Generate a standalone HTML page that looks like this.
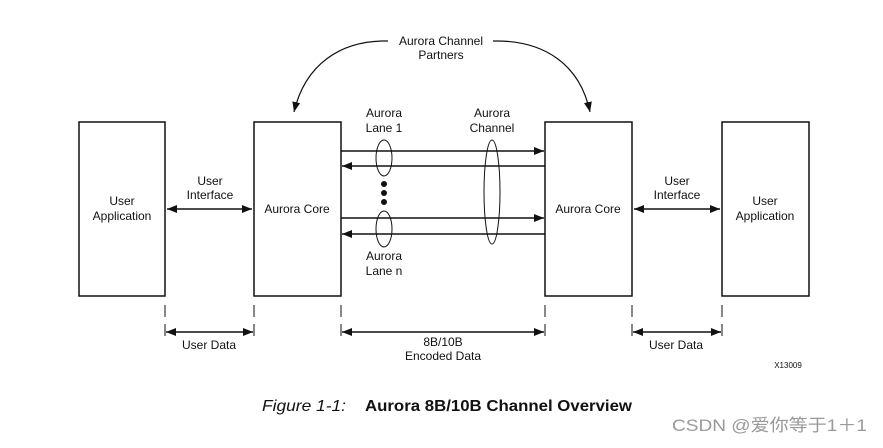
<!DOCTYPE html>
<html><head><style>
body{margin:0;background:#fff;width:883px;height:443px;overflow:hidden}
svg text{font-family:"Liberation Sans",Arial,sans-serif;font-size:12px;fill:#111}
</style></head><body>
<svg width="883" height="443" viewBox="0 0 883 443" xmlns="http://www.w3.org/2000/svg">
<defs>
<marker id="a" markerWidth="10" markerHeight="8" refX="10" refY="4" orient="auto-start-reverse" markerUnits="userSpaceOnUse"><path d="M0,0 L10,4 L0,8z" fill="#111"/></marker>
</defs>
<g fill="none" stroke="#111" stroke-width="1.5">
<rect x="79" y="122" width="86" height="174"/>
<rect x="254" y="122" width="87" height="174"/>
<rect x="545" y="122" width="87" height="174"/>
<rect x="722" y="122" width="87" height="174"/>
<line x1="167" y1="209" x2="252" y2="209" marker-start="url(#a)" marker-end="url(#a)"/>
<line x1="634" y1="209" x2="720" y2="209" marker-start="url(#a)" marker-end="url(#a)"/>
<line x1="341" y1="151" x2="544" y2="151" marker-end="url(#a)"/>
<line x1="545" y1="166" x2="342" y2="166" marker-end="url(#a)"/>
<line x1="341" y1="218" x2="544" y2="218" marker-end="url(#a)"/>
<line x1="545" y1="234" x2="342" y2="234" marker-end="url(#a)"/>
<ellipse cx="384" cy="158" rx="8" ry="18" stroke-width="1"/>
<ellipse cx="384" cy="229" rx="8" ry="18" stroke-width="1"/>
<ellipse cx="492" cy="192" rx="8" ry="52" stroke-width="1"/>
<path d="M388,41 C340,40 305,65 294,112" stroke-width="1.2" marker-end="url(#a)"/>
<path d="M493,41 C545,40 580,65 590,112" stroke-width="1.2" marker-end="url(#a)"/>
<g stroke-dasharray="12,7" stroke-width="1">
<line x1="165" y1="305" x2="165" y2="337"/>
<line x1="254" y1="305" x2="254" y2="337"/>
<line x1="341" y1="305" x2="341" y2="337"/>
<line x1="545" y1="305" x2="545" y2="337"/>
<line x1="632" y1="305" x2="632" y2="337"/>
<line x1="722" y1="305" x2="722" y2="337"/>
</g>
<line x1="166" y1="332" x2="253" y2="332" marker-start="url(#a)" marker-end="url(#a)"/>
<line x1="342" y1="332" x2="544" y2="332" marker-start="url(#a)" marker-end="url(#a)"/>
<line x1="633" y1="332" x2="721" y2="332" marker-start="url(#a)" marker-end="url(#a)"/>
</g>
<g fill="#111"><circle cx="384" cy="184" r="3"/><circle cx="384" cy="193" r="3"/><circle cx="384" cy="202" r="3"/></g>
<g text-anchor="middle">
<text x="122" y="205">User</text><text x="122" y="220">Application</text>
<text x="210" y="185">User</text><text x="210" y="199">Interface</text>
<text x="297" y="213">Aurora Core</text>
<text x="588" y="213">Aurora Core</text>
<text x="677" y="185">User</text><text x="677" y="199">Interface</text>
<text x="765" y="205">User</text><text x="765" y="220">Application</text>
<text x="441" y="45">Aurora Channel</text><text x="441" y="59">Partners</text>
<text x="384" y="117">Aurora</text><text x="384" y="132">Lane 1</text>
<text x="492" y="117">Aurora</text><text x="492" y="132">Channel</text>
<text x="384" y="260">Aurora</text><text x="384" y="275">Lane n</text>
<text x="209" y="349">User Data</text>
<text x="443" y="346">8B/10B</text><text x="443" y="360">Encoded Data</text>
<text x="676" y="349">User Data</text>
<text x="788" y="368" style="font-size:8px">X13009</text>
</g>
<text x="262" y="411" style="font-size:16px;font-style:italic" textLength="84" lengthAdjust="spacingAndGlyphs">Figure 1-1:</text>
<text x="365" y="411" style="font-size:16px;font-weight:bold" textLength="267" lengthAdjust="spacingAndGlyphs">Aurora 8B/10B Channel Overview</text>
<text x="672" y="431" style="font-size:17px;fill:#999;font-family:'Liberation Sans','Noto Sans CJK SC',sans-serif" textLength="195" lengthAdjust="spacingAndGlyphs">CSDN @爱你等于1＋1</text>
</svg>
</body></html>
